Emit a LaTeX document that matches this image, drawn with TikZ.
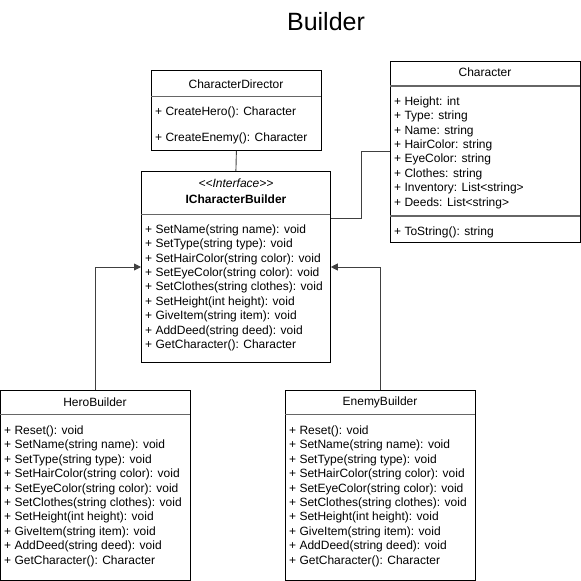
\documentclass[tikz,border=0pt]{standalone}
\usepackage{fontspec}
\setmainfont{Liberation Sans}
\usetikzlibrary{positioning, arrows.meta}

\begin{document}
\begin{tikzpicture}[
			x = 1pt, y = -1pt,
			classbox/.style = {draw, anchor = north west, inner sep = 0pt, line width = 0.8pt},
			heading/.style = {font = \fontsize{12}{14.4}\selectfont, inner sep = 0pt},
			members/.style = {anchor = north west, align = left, inner sep = 0pt, font = \fontsize{12}{14.4}\selectfont},
			divider/.style = {draw = black!60, line width = 0.8pt},
			twodivider/.style = {draw = black!60, line width = 1.6pt},
			link/.style = {draw = black!75, line width = 0.9pt},
			realize/.style = {link, -{Triangle[length = 7pt, width = 7pt]}}
		]
		\useasboundingbox (0,0) rectangle (581,581);
		\node[font = \fontsize{25}{30}\selectfont] (title) at (326,22) {Builder};

		% classes
		\node[classbox, minimum width = 170pt, minimum height = 80pt] (director) at (151,70) {};
		\node[classbox, minimum width = 189pt, minimum height = 191pt] (builder) at (141,171) {};
		\node[classbox, minimum width = 190pt, minimum height = 181pt] (character) at (390,61) {};
		\node[classbox, minimum width = 190pt, minimum height = 190pt] (hero) at (0,390) {};
		\node[classbox, minimum width = 190pt, minimum height = 190pt] (enemy) at (285,390) {};

		% headings
		\node[heading] (directorname) at (236,84) {CharacterDirector};
		\node[heading, font = \fontsize{12}{14.4}\selectfont\itshape] (stereotype) at (236,183) {<{}<Interface>{}>};
		\node[heading, font = \fontsize{12}{14.4}\selectfont\bfseries] (buildername) at (236,199) {ICharacterBuilder};
		\node[heading] (charactername) at (485,72) {Character};
		\node[heading] (heroname) at (95,402) {HeroBuilder};
		\node[heading] (enemyname) at (380,402) {EnemyBuilder};

		\draw[divider] (151,96) -- (321,96);
		\draw[divider] (141,214) -- (330,214);
		\draw[twodivider] (390,86) -- (580,86);
		\draw[twodivider] (390,216) -- (580,216);
		\draw[divider] (0,414) -- (190,414);
		\draw[divider] (285,414) -- (475,414);

		% members
		\node[members, font = \fontsize{12}{26}\selectfont] (directorops) at (155,106.5) {+ CreateHero(): Character\\+ CreateEnemy(): Character};
		\node[members] (builderops) at (145,224.5) {+ SetName(string name): void\\+ SetType(string type): void\\+ SetHairColor(string color): void\\+ SetEyeColor(string color): void\\+ SetClothes(string clothes): void\\+ SetHeight(int height): void\\+ GiveItem(string item): void\\+ AddDeed(string deed): void\\+ GetCharacter(): Character};
		\node[members] (characterattrs) at (394,96.5) {+ Height: int\\+ Type: string\\+ Name: string\\+ HairColor: string\\+ EyeColor: string\\+ Clothes: string\\+ Inventory: List<string>\\+ Deeds: List<string>};
		\node[members] (characterops) at (394,226.5) {+ ToString(): string};
		\node[members] (heroops) at (4,425.5) {+ Reset(): void\\+ SetName(string name): void\\+ SetType(string type): void\\+ SetHairColor(string color): void\\+ SetEyeColor(string color): void\\+ SetClothes(string clothes): void\\+ SetHeight(int height): void\\+ GiveItem(string item): void\\+ AddDeed(string deed): void\\+ GetCharacter(): Character};
		\node[members] (enemyops) at (289,425.5) {+ Reset(): void\\+ SetName(string name): void\\+ SetType(string type): void\\+ SetHairColor(string color): void\\+ SetEyeColor(string color): void\\+ SetClothes(string clothes): void\\+ SetHeight(int height): void\\+ GiveItem(string item): void\\+ AddDeed(string deed): void\\+ GetCharacter(): Character};

		% connectors
		\draw[link] (director.south) -- (builder.north);
		\draw[link] ([yshift = -47pt]builder.north east) -- ++(31,0) |- (character.west);
		\draw[realize] (hero.north) |- ([yshift = -96pt]builder.north west);
		\draw[realize] (enemy.north) |- ([yshift = -96pt]builder.north east);
	\end{tikzpicture}
\end{document}
